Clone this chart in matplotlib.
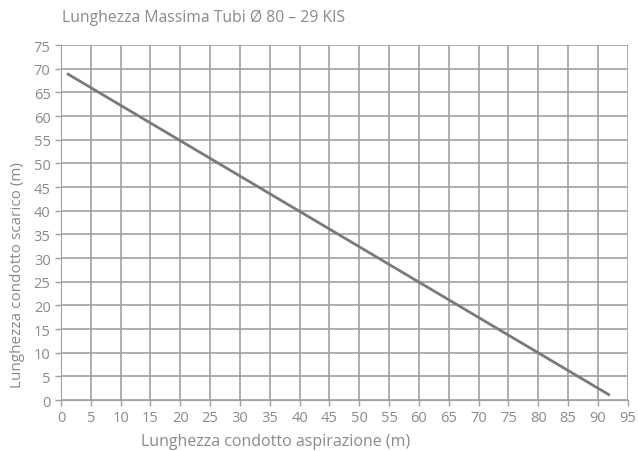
import matplotlib
matplotlib.use("Agg")
import matplotlib.pyplot as plt

# Retta limite: lunghezza aspirazione vs scarico (m)
aspirazione = [1, 92]
scarico = [69, 1]

x_ticks = list(range(0, 100, 5))
y_ticks = list(range(0, 80, 5))

plt.rcParams['font.family'] = ['Open Sans', 'DejaVu Sans']
txt = '#8a8a8a'
grid = '#a0a0a0'

fig = plt.figure(figsize=(6.38, 4.52), dpi=100)
ax = fig.add_axes([0.0956, 0.1128, 0.8884, 0.7852])

ax.plot(aspirazione, scarico, color='#7a7a7a', linewidth=2, solid_capstyle='butt')

ax.set_xlim(0, 95)
ax.set_ylim(0, 75)
ax.set_xticks(x_ticks)
ax.set_yticks(y_ticks)
ax.grid(True, color=grid, linewidth=1.2)
ax.set_axisbelow(True)
for s in ax.spines.values():
    s.set_visible(False)
ax.spines['left'].set_visible(True)
ax.spines['bottom'].set_visible(True)
ax.spines['left'].set_color(grid)
ax.spines['bottom'].set_color(grid)
ax.tick_params(colors=grid, labelcolor=txt, labelsize=10.5, length=4, width=1)

ax.set_xlabel('Lunghezza condotto aspirazione (m)', color=txt, fontsize=11.5)
ax.xaxis.set_label_coords(0.379, -0.093)
ax.set_ylabel('Lunghezza condotto scarico (m)', color=txt, fontsize=11)
ax.yaxis.set_label_coords(-0.064, 0.355)

fig.text(0.097, 0.96, 'Lunghezza Massima Tubi Ø 80 – 29 KIS', color=txt, fontsize=11.3, va='center', ha='left')

fig.savefig('out.png', dpi=100)
